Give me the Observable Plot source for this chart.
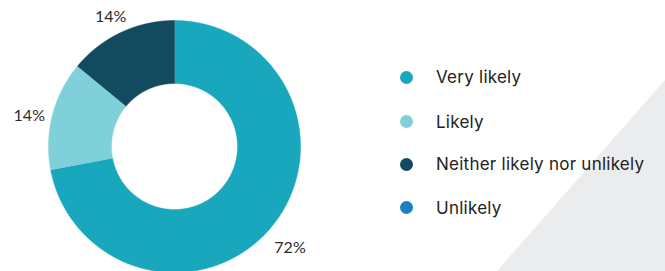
<!DOCTYPE html>
<html><head><meta charset="utf-8">
<script src="https://cdn.jsdelivr.net/npm/d3@7"></script>
<script src="https://cdn.jsdelivr.net/npm/@observablehq/plot@0.6"></script>
<style>
html,body{margin:0;padding:0;background:#fff;overflow:hidden}
#wrap{position:relative;width:665px;height:271px;overflow:hidden}
#tri{position:absolute;left:0;top:0;width:665px;height:271px;background:#ebeced;clip-path:polygon(497px 271px,665px 80px,665px 271px)}
#chart{position:absolute;left:0;top:0}
#legend{position:absolute;left:0;top:0;width:665px;height:271px;font-family:Inter,"Noto Sans",sans-serif;font-size:17px;letter-spacing:0.25px;color:#222}
.item{position:absolute;left:400px;height:24px;display:flex;align-items:center;white-space:nowrap}
.dot{width:13px;height:13px;border-radius:50%;margin-right:23px;flex:none}
</style>
</head><body>
<div id="wrap"><div id="tri"></div><div id="chart"></div><div id="legend"></div></div>
<script>
const categories = ["Very likely", "Likely", "Neither likely nor unlikely", "Unlikely"];
const values = [72, 14, 14, 0];
const colors = ["#19a7bd", "#80d0d9", "#124a60", "#1b80bf"];
const labels = ["72%", "14%", "14%", ""];

const innerR = 0.5, outerR = 1, labelR = 1.19;
const arcs = d3.pie().sort(null).value(d => d.value)(categories.map((c, i) => ({category: c, value: values[i], label: labels[i]})));

const polyPts = [];
const labelPts = [];
arcs.forEach(a => {
  if (a.data.value <= 0) return;
  const n = Math.max(2, Math.ceil((a.endAngle - a.startAngle) / 0.005));
  for (let k = 0; k <= n; k++) {
    const t = a.startAngle + (a.endAngle - a.startAngle) * k / n;
    polyPts.push({category: a.data.category, x: outerR * Math.sin(t), y: outerR * Math.cos(t)});
  }
  for (let k = n; k >= 0; k--) {
    const t = a.startAngle + (a.endAngle - a.startAngle) * k / n;
    polyPts.push({category: a.data.category, x: innerR * Math.sin(t), y: innerR * Math.cos(t)});
  }
  const m = (a.startAngle + a.endAngle) / 2;
  labelPts.push({label: a.data.label, x: labelR * Math.sin(m), y: labelR * Math.cos(m)});
});

const plot = Plot.plot({
  width: 340, height: 271,
  margin: 0,
  style: {background: "transparent", overflow: "visible"},
  x: {domain: [-1, 1], range: [48, 300], axis: null},
  y: {domain: [-1, 1], range: [272, 20], axis: null},
  color: {domain: categories, range: colors},
  marks: [
    Plot.line(polyPts, {x: "x", y: "y", z: "category", fill: "category", stroke: "category", strokeWidth: 0.5, curve: "linear"}),
    Plot.text(labelPts, {x: "x", y: "y", text: "label", fontSize: 16, fill: "#2b2b2b", fontFamily: "Lato, 'Open Sans', sans-serif", textAnchor: "middle", lineAnchor: "top"})
  ]
});
document.getElementById("chart").appendChild(plot);

const legendY = [77, 121.5, 164, 207.5];
const lg = document.getElementById("legend");
categories.forEach((c, i) => {
  const it = document.createElement("div");
  it.className = "item";
  it.style.top = (legendY[i] - 12) + "px";
  it.innerHTML = `<span class="dot" style="background:${colors[i]}"></span><span>${c}</span>`;
  lg.appendChild(it);
});
</script>
</body></html>
